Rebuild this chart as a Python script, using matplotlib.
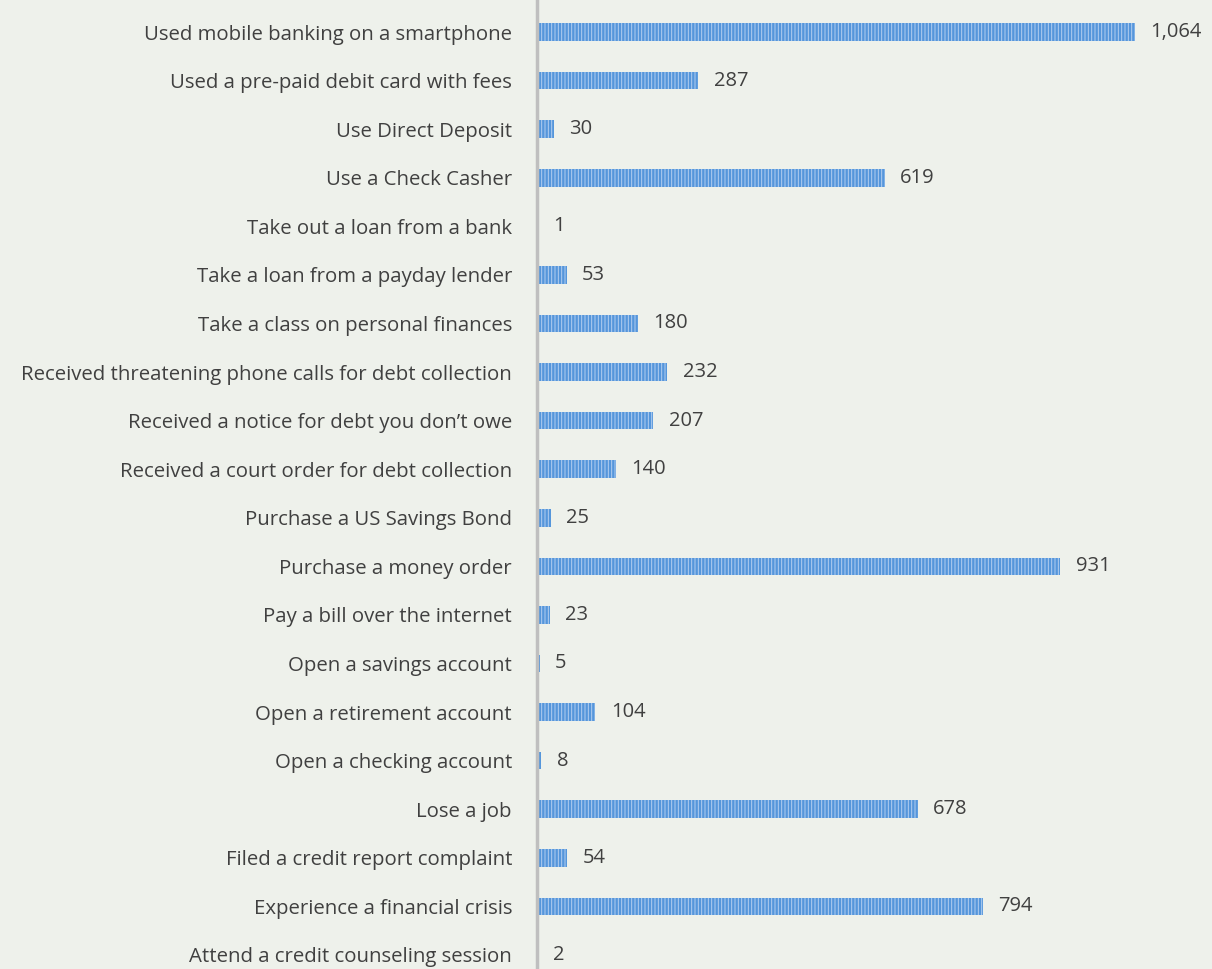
import matplotlib.pyplot as plt

# categories from bottom to top, as drawn
labels = [
    "Attend a credit counseling session",
    "Experience a financial crisis",
    "Filed a credit report complaint",
    "Lose a job",
    "Open a checking account",
    "Open a retirement account",
    "Open a savings account",
    "Pay a bill over the internet",
    "Purchase a money order",
    "Purchase a US Savings Bond",
    "Received a court order for debt collection",
    "Received a notice for debt you don\u2019t owe",
    "Received threatening phone calls for debt collection",
    "Take a class on personal finances",
    "Take a loan from a payday lender",
    "Take out a loan from a bank",
    "Use a Check Casher",
    "Use Direct Deposit",
    "Used a pre-paid debit card with fees",
    "Used mobile banking on a smartphone",
]
counts = [2, 794, 54, 678, 8, 104, 5, 23, 931, 25, 140, 207, 232, 180, 53, 1, 619, 30, 287, 1064]

BG = "#eef1eb"
TXT = "#404040"

plt.rcParams['font.family'] = ['Open Sans', 'DejaVu Sans']
plt.rcParams['hatch.linewidth'] = 0.7

fig = plt.figure(figsize=(12.12, 9.69), dpi=100, facecolor=BG)
ax = fig.add_axes([537 / 1212, 0, 675 / 1212, 1])
ax.set_facecolor(BG)

ypos = list(range(len(labels)))
# hatch density: 5 * 6 = 30 lines per inch, about one every 3 px
ax.barh(ypos, counts, height=0.36, color="#5596db", edgecolor="#b3cff0",
        linewidth=0, hatch="|" * 5)

for y, v in zip(ypos, counts):
    ax.annotate(f"{v:,}", (v, y), xytext=(11, 0), textcoords="offset points",
                va="center", ha="left", fontsize=14.5, color=TXT)

ax.set_xlim(0, 1201)
ax.set_ylim(-0.29, 19.66)
ax.set_yticks(ypos)
ax.set_yticklabels(labels, fontsize=14.7, color=TXT)
ax.tick_params(axis="y", length=0, pad=18)
ax.set_xticks([])
for s in ["top", "right", "bottom"]:
    ax.spines[s].set_visible(False)
ax.spines["left"].set_color("#bfbfbf")
ax.spines["left"].set_linewidth(2.5)

fig.savefig("out.png", dpi=100, facecolor=BG)
